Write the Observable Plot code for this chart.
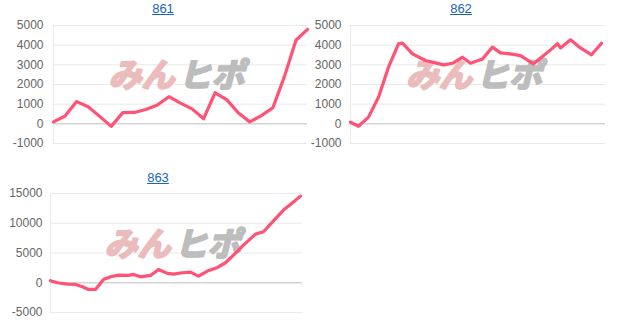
<!DOCTYPE html>
<html>
<head>
<meta charset="utf-8">
<script src="https://cdn.jsdelivr.net/npm/d3@7"></script>
<script src="https://cdn.jsdelivr.net/npm/@observablehq/plot@0.6"></script>
<style>
  body { margin: 0; background: #fff; font-family: "Liberation Sans", Arial, sans-serif; }
  #root { position: relative; width: 624px; height: 331px; overflow: hidden; }
  .cell { position: absolute; }
  .title { position: absolute; font-size: 13px; color: #1565c0; text-decoration: underline; transform: translateX(-50%); white-space: nowrap; }
</style>
</head>
<body>
<div id="root"></div>
<script>
// ---- Data ----
const titles = ["861", "862", "863"];

// Chart 861: evenly spaced observations
const x861 = d3.range(23);
const y861 = [100, 400, 1130, 870, 380, -130, 570, 580, 730, 960, 1380, 1050, 760, 260, 1580, 1230, 560, 100, 420, 820, 2400, 4250, 4800];

// Chart 862: observation day offsets and values
const x862 = [0, 8, 18, 28, 38, 48, 52, 62, 75, 85, 93, 102, 112, 120, 132, 142, 150, 160, 170, 183, 192, 200, 207, 210, 220, 230, 241, 251];
const y862 = [80, -120, 340, 1350, 2880, 4070, 4100, 3560, 3220, 3100, 3000, 3080, 3390, 3080, 3300, 3900, 3610, 3560, 3470, 3050, 3420, 3760, 4070, 3860, 4270, 3860, 3510, 4100];

// Chart 863: observation day offsets and values
const x863 = [0, 7, 17, 25, 32, 38, 45, 53, 60, 68, 78, 83, 90, 100, 108, 117, 123, 132, 140, 148, 157, 167, 175, 183, 193, 205, 213, 223, 233, 242, 250];
const y863 = [340, 0, -220, -280, -670, -1120, -1120, 560, 1000, 1290, 1230, 1400, 1000, 1230, 2240, 1570, 1460, 1680, 1790, 1120, 1960, 2580, 3360, 4650, 6330, 8170, 8570, 10410, 12210, 13440, 14560];

const ticksSmall = [-1000, 0, 1000, 2000, 3000, 4000, 5000];
const ticksLarge = [-5000, 0, 5000, 10000, 15000];

const watermarkA = "みん";
const watermarkB = "ヒポ";

// ---- Drawing ----
const root = document.getElementById("root");
const lineColor = "#ff5274";

function makeChart(cfg) {
  const data = cfg.xs.map((x, i) => ({x, y: cfg.ys[i]}));
  const ticks = cfg.ticks;
  const wmFont = {fontSize: 33, fontWeight: "bold", fontStyle: "italic", fontFamily: "'Noto Sans CJK JP', sans-serif", strokeWidth: 2.2, strokeLinejoin: "round"};
  const plot = Plot.plot({
    width: cfg.width,
    height: cfg.height,
    marginLeft: cfg.ml,
    marginRight: cfg.mr,
    marginTop: cfg.mt,
    marginBottom: cfg.mb,
    style: {fontFamily: "'Liberation Sans', Arial, sans-serif", fontSize: "12px", color: "#666", background: "transparent"},
    x: {domain: cfg.xDomain, axis: null},
    y: {domain: [ticks[0], ticks[ticks.length - 1]], ticks: ticks, tickSize: 0, tickPadding: cfg.pad, tickFormat: d => String(d), label: null},
    marks: [
      Plot.ruleY(ticks.filter(t => t !== 0), {stroke: "#e9e9e9", strokeWidth: 1}),
      Plot.ruleX([cfg.xDomain[0]], {stroke: "#ececec", strokeWidth: 1}),
      Plot.ruleY([0], {stroke: "#d4d4d4", strokeWidth: 1.5}),
      Plot.text([watermarkA], {text: d => d, frameAnchor: "middle", textAnchor: "end", dx: cfg.wdx - 4, dy: cfg.wdy, fill: "#ebbcbc", stroke: "#ebbcbc", ...wmFont}),
      Plot.text([watermarkB], {text: d => d, frameAnchor: "middle", textAnchor: "start", dx: cfg.wdx, dy: cfg.wdy, fill: "#bdbdbd", stroke: "#bdbdbd", ...wmFont}),
      Plot.line(data, {x: "x", y: "y", stroke: lineColor, strokeWidth: 3.2, curve: "linear", strokeLinejoin: "round", strokeLinecap: "round"})
    ]
  });
  const cell = document.createElement("div");
  cell.className = "cell";
  cell.style.left = cfg.left + "px";
  cell.style.top = cfg.top + "px";
  cell.appendChild(plot);
  root.appendChild(cell);

  const t = document.createElement("div");
  t.className = "title";
  t.textContent = cfg.title;
  t.style.left = cfg.titleX + "px";
  t.style.top = cfg.titleY + "px";
  root.appendChild(t);
}

makeChart({title: titles[0], xs: x861, ys: y861, xDomain: [0, 22], ticks: ticksSmall,
  left: 0, top: 0, width: 320, height: 160, ml: 53, mr: 13, mt: 25, mb: 17, pad: 10,
  titleX: 163, titleY: 1, wdx: -2, wdy: -8});
makeChart({title: titles[1], xs: x862, ys: y862, xDomain: [0, 255], ticks: ticksSmall,
  left: 300, top: 0, width: 320, height: 160, ml: 50, mr: 15, mt: 25, mb: 17, pad: 9,
  titleX: 461, titleY: 1, wdx: -2, wdy: -8});
makeChart({title: titles[2], xs: x863, ys: y863, xDomain: [0, 252], ticks: ticksLarge,
  left: 0, top: 160, width: 320, height: 171, ml: 50, mr: 18, mt: 33, mb: 19, pad: 8,
  titleX: 158, titleY: 170, wdx: -2, wdy: -8});
</script>
</body>
</html>
